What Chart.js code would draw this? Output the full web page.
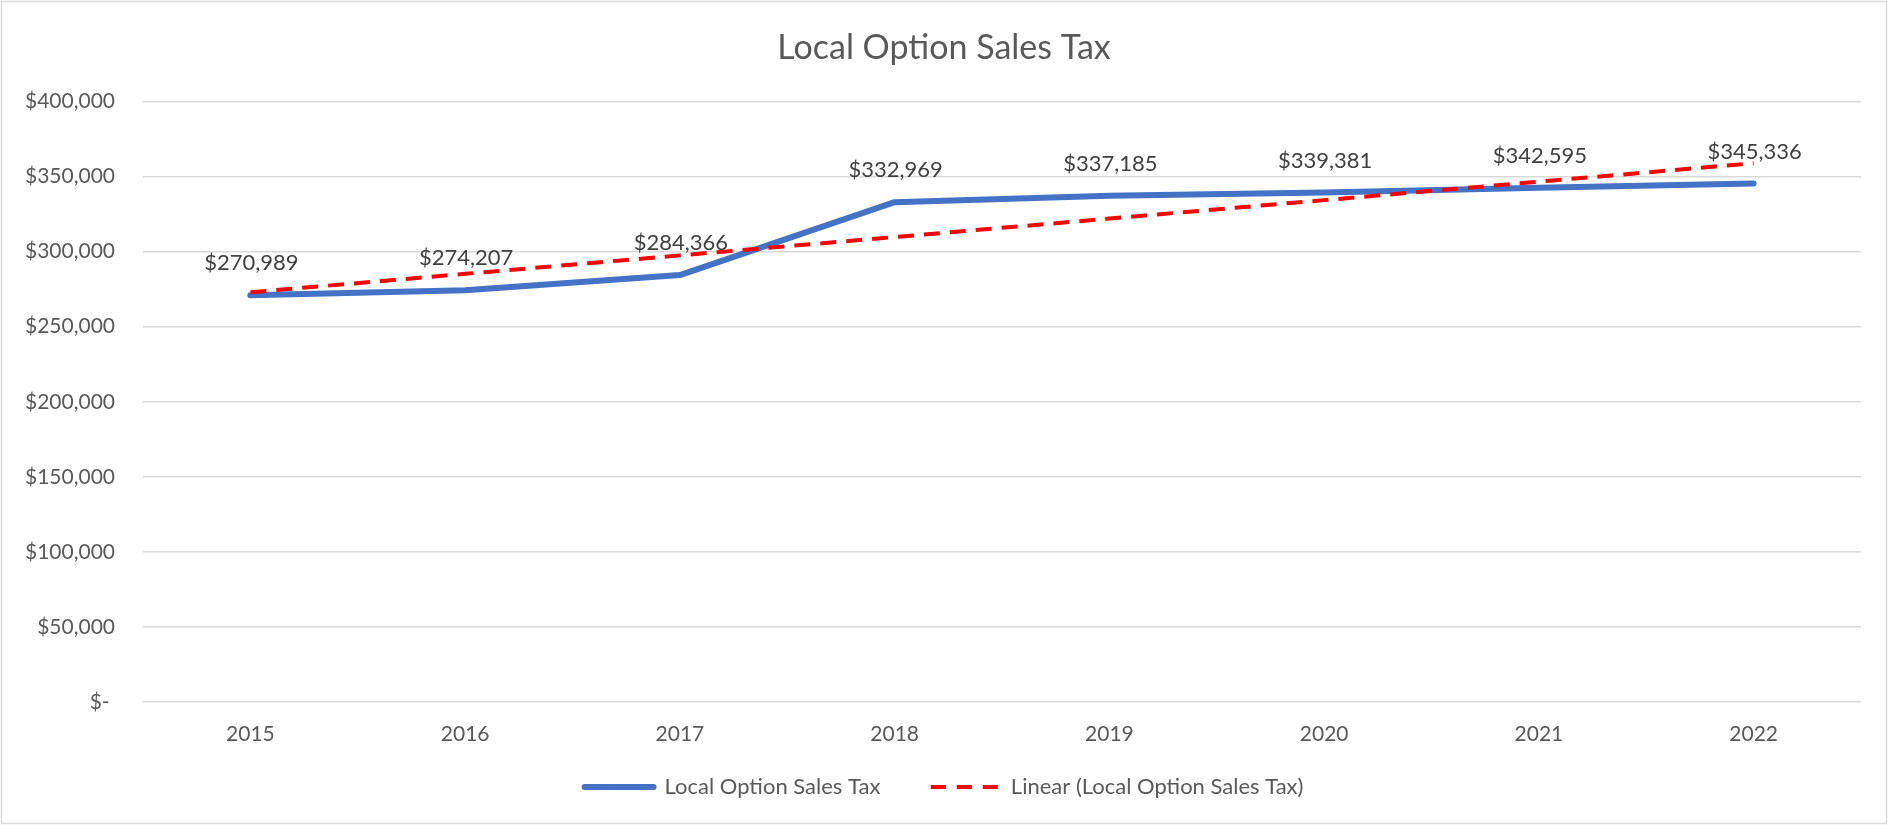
<!DOCTYPE html>
<html>
<head>
<meta charset="utf-8">
<script src="https://cdn.jsdelivr.net/npm/chart.js@4.4.1/dist/chart.umd.min.js"></script>
<style>
  html, body { margin: 0; padding: 0; background: #ffffff; }
  #wrap { width: 1888px; height: 825px; position: relative; }
</style>
</head>
<body>
<div id="wrap"><canvas id="c" width="1888" height="825"></canvas></div>
<script>
const categories = ['2015', '2016', '2017', '2018', '2019', '2020', '2021', '2022'];
const salesTax = [270989, 274207, 284366, 332969, 337185, 339381, 342595, 345336];
const trendValues = [272900, 285200, 297500, 309700, 322000, 334300, 346600, 358900];
const seriesNames = ['Local Option Sales Tax', 'Linear (Local Option Sales Tax)'];
const chartTitle = 'Local Option Sales Tax';
const yMin = 0, yMax = 400000, yStep = 50000;

const FONT = 'Lato';
const money = v => v === 0 ? '$- ' : '$' + v.toLocaleString('en-US');

const frame = {
  id: 'frame',
  beforeDraw(chart) {
    const ctx = chart.ctx;
    ctx.save();
    ctx.fillStyle = '#ffffff';
    ctx.fillRect(0, 0, chart.width, chart.height);
    ctx.strokeStyle = '#d9d9d9';
    ctx.lineWidth = 1.5;
    ctx.strokeRect(1.5, 1.5, chart.width - 3, chart.height - 3);
    ctx.restore();
  }
};

const dataLabels = {
  id: 'dataLabels',
  afterDatasetsDraw(chart) {
    const ctx = chart.ctx;
    const meta = chart.getDatasetMeta(0);
    ctx.save();
    ctx.font = '22px ' + FONT;
    ctx.fillStyle = '#404040';
    ctx.textAlign = 'center';
    ctx.textBaseline = 'middle';
    meta.data.forEach((pt, i) => {
      ctx.fillText(money(salesTax[i]), pt.x + 1, pt.y - 32);
    });
    ctx.restore();
  }
};

new Chart(document.getElementById('c'), {
  type: 'line',
  data: {
    labels: categories,
    datasets: [
      {
        label: seriesNames[0],
        data: salesTax,
        borderColor: '#4472C4',
        backgroundColor: '#4472C4',
        borderWidth: 6,
        borderCapStyle: 'round',
        borderJoinStyle: 'round',
        pointRadius: 0,
        tension: 0,
        order: 2
      },
      {
        label: seriesNames[1],
        data: trendValues,
        borderColor: '#FF0000',
        backgroundColor: '#FF0000',
        borderWidth: 4,
        borderDash: [16, 10],
        borderCapStyle: 'butt',
        pointRadius: 0,
        tension: 0,
        order: 1
      }
    ]
  },
  options: {
    responsive: false,
    animation: false,
    devicePixelRatio: 1,
    layout: { padding: { top: 0, left: 0, right: 0, bottom: 17 } },
    plugins: {
      tooltip: { enabled: false },
      title: {
        display: true,
        text: chartTitle,
        color: '#595959',
        font: { family: FONT, size: 34, weight: 'normal' },
        padding: { top: 27.6, bottom: 33.1 }
      },
      legend: {
        position: 'bottom',
        labels: {
          usePointStyle: true,
          pointStyle: 'line',
          pointStyleWidth: 69,
          padding: 50.5,
          color: '#595959',
          font: { family: FONT, size: 22 },
          sort: (a, b) => a.datasetIndex - b.datasetIndex,
          generateLabels(chart) {
            const items = Chart.defaults.plugins.legend.labels.generateLabels(chart);
            return items.map(it => {
              const ds = chart.data.datasets[it.datasetIndex];
              it.pointStyle = 'line';
              it.strokeStyle = ds.borderColor;
              it.fillStyle = ds.borderColor;
              it.lineWidth = ds.borderWidth;
              it.lineDash = ds.borderDash ? [15, 11] : [];
              it.lineCap = ds.borderCapStyle;
              return it;
            });
          }
        }
      }
    },
    scales: {
      x: {
        offset: true,
        grid: { display: false, drawTicks: false },
        border: { display: false },
        ticks: { color: '#595959', font: { family: FONT, size: 21 }, mirror: true, padding: -45, maxRotation: 0 },
        afterFit(s) { s.height = 23.5; }
      },
      y: {
        min: yMin,
        max: yMax,
        ticks: { stepSize: yStep, color: '#595959', font: { family: FONT, size: 21 }, padding: 28, callback: v => money(v) },
        grid: { color: '#d9d9d9', lineWidth: 1.5, drawTicks: false },
        border: { display: false },
        afterFit(s) { s.width = 143; }
      },
      yRight: {
        position: 'right',
        display: true,
        grid: { display: false, drawTicks: false },
        border: { display: false },
        ticks: { display: false },
        afterFit(s) { s.width = 27; }
      }
    }
  },
  plugins: [frame, dataLabels]
});
</script>
</body>
</html>
